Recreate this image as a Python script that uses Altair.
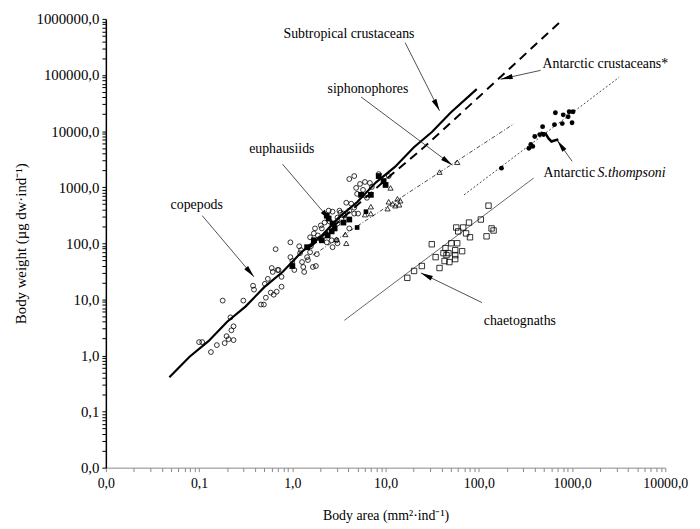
import math
import altair as alt
import pandas as pd

W, H = 566, 454
X_DOMAIN = [0.01, 10000]
Y_DOMAIN = [0.01, 1000000]
SERIF = "Liberation Serif"

# ---------------- data ----------------
cop_x = [0.100,0.108,0.134,0.155,0.179,0.188,0.197,0.207,0.217,0.234,
         0.222,0.234,0.298,0.379,0.388,0.461,0.495,0.520,0.507,0.546,
         0.601,0.616,0.587,0.631,0.679,0.766,0.695,0.662,0.953,0.953,
         1.0,1.05,1.185,1.24,1.27,1.31,1.34,1.47,1.66,1.79,
         1.55,1.58,1.88,1.75,2.07,2.45,2.64,2.70,3.05,1.70,
         1.55,3.79,4.28,4.08,3.61,3.28,3.36,4.83,5.32,5.73,
         4.95,6.01,6.79,8.44,10.8,7.12,6.31,2.70,3.05,2.22,
         2.02,3.05,2.70,2.51,4.61,4.08,3.20,3.53,4.61,5.07,
         1.83,1.97,2.34,2.98,1.44,1.21,4.08,4.61,0.766,0.712]
cop_y = [1.73,1.73,1.15,1.53,9.51,1.66,2.21,1.95,4.77,3.31,
         2.81,1.88,9.51,17.5,14.9,8.08,8.08,10.7,18.9,23.2,
         36.3,30.8,13.2,12.1,13.7,16.8,33.4,78.4,104,56.6,
         48.2,33.4,88.5,75.3,46.3,37.8,30.8,50.2,37.8,39.3,
         69.4,88.5,138,184,184,381,113,85.1,100,150,
         128,528,507,381,311,352,265,970,1141,895,
         760,1238,1188,1711,1578,1010,647,366,287,234,
         208,225,199,244,431,184,381,338,338,338,
         64.0,122,104,113,56.6,66.7,1397,1578,25.2,33.4]

eup_x = [8.44,9.53,10.0,5.46,6.95,2.34,2.45,2.70,3.53,4.08,2.84,2.64,2.07,2.39,1.70,1.0,1.44]
eup_y = [1578,1288,1096,730,730,311,276,225,234,265,184,163,113,138,113,39.3,85.1]

sip_x = [37.9,58.7,11.3,10.8,11.9,13.4,14.4,12.7,14.0,10.5,6.95,6.01,6.95,3.79,2.98,3.70]
sip_y = [1857,2786,970,550,507,621,573,468,486,414,449,324,338,100,118,144]

fsq_x = [4.95,6.16]
fsq_y = [191,366]

sth_x = [662,804,930,1025,907,1000,785,647,483,398,450,495,379,344,361,175]
sth_y = [21200,19500,22100,22100,18000,14100,13600,13000,12000,8000,8670,8670,5330,4920,5780,2180]

cha_x = [127,137,144,121,105,78.5,67.9,57.3,60.1,73,
         80.4,50.7,58.6,66.2,43.9,47.2,41.8,45,55.8,55.8,
         55.8,48.3,42.9,34.4,31.3,37.9,24.5,20.2,17.1]
cha_y = [468,184,169,133,265,234,191,191,163,150,
         128,100,100,72.3,81.7,66.7,66.7,61.5,75.3,61.5,
         52.2,46.2,48.2,56.6,96,36.2,39.3,32.1,24.2]

# regression / trend lines
crus_x = [0.048,0.079,0.126,0.2,0.316,0.5,0.79,1.26,2.0,3.16,5.0,7.9,12.6,20,31.6,50,95]
crus_y = [0.41,0.95,1.8,4.0,7.5,16.5,31,70,130,290,550,1220,2300,5100,9700,21500,56000]
antc_x = [1.55,10.2,25,100,785]
antc_y = [85,1397,4920,40550,960000]
sipl_x = [1.66,239]
sipl_y = [61.5,13550]
sthl_x = [69.5,3200]
sthl_y = [730,91200]
chal_x = [3.61,388]
chal_y = [4.22,1456]
sthc_x = [460,520,559,601,647,713]
sthc_y = [9400,9030,7380,6530,6800,7080]

# annotations
lab_text = ["Subtropical crustaceans","Antarctic crustaceans*","siphonophores",
            "euphausiids","copepods","Antarctic","chaetognaths"]
lab_x = [0.804,483,2.39,0.344,0.0495,495,113]
lab_y = [544000,154600,56100,4720,486,1783,4.05]
ital_text = ["S.thompsoni"]
ital_x = [1878]
ital_y = [1783]

arr_x0 = [16.2,460,5.46,0.785,0.108,1000,108]
arr_y0 = [378000,121000,40550,2570,311,2900,8.77]
arr_x1 = [37.9,171,52.0,2.57,0.388,695,23.9]
arr_y1 = [23000,84100,2466,254,25.2,6800,29.6]

# axis ticks
x_major = [0.01,0.1,1,10,100,1000,10000]
x_labels = ["0,0","0,1","1,0","10,0","100,0","1000,0","10000,0"]
y_major = [0.01,0.1,1,10,100,1000,10000,100000,1000000]
y_labels = ["0,0","0,1","1,0","10,0","100,0","1000,0","10000,0","100000,0","1000000,0"]

def all_ticks(major):
    t = []
    for d in major[:-1]:
        t += [d * m for m in range(1, 10)]
    t.append(major[-1])
    return t

def label_expr(vals, labs):
    e = "''"
    for v, l in reversed(list(zip(vals, labs))):
        e = f"datum.value == {v} ? '{l}' : ({e})"
    return e

x_axis = alt.Axis(values=all_ticks(x_major), labelExpr=label_expr(x_major, x_labels),
                  title="Body area (mm²·ind⁻¹)", grid=False, tickSize=4,
                  domainColor="#888", tickColor="#888", labelColor="black", titleColor="black",
                  labelFont=SERIF, titleFont=SERIF, labelFontSize=14, titleFontSize=14,
                  titleFontWeight="normal", labelPadding=5, titlePadding=18,
                  labelOverlap=False, labelFlush=False)
y_axis = alt.Axis(values=all_ticks(y_major), labelExpr=label_expr(y_major, y_labels),
                  title="Body weight (µg dw·ind⁻¹)", grid=False, tickSize=4,
                  domainColor="black", domainWidth=1.5, tickColor="black",
                  labelColor="black", titleColor="black",
                  labelFont=SERIF, titleFont=SERIF, labelFontSize=15, titleFontSize=15,
                  titleFontWeight="normal", labelPadding=3, titlePadding=8,
                  labelOverlap=False, labelFlush=False)

XS = alt.Scale(type="log", domain=X_DOMAIN, nice=False)
YS = alt.Scale(type="log", domain=Y_DOMAIN, nice=False)

def X():
    return alt.X("x:Q", scale=XS, axis=x_axis)

def Y():
    return alt.Y("y:Q", scale=YS, axis=y_axis)

def df(xs, ys):
    return pd.DataFrame({"x": xs, "y": ys, "i": list(range(len(xs)))})

def line(xs, ys, **kw):
    return alt.Chart(df(xs, ys)).mark_line(clip=True, **kw).encode(
        x=X(), y=Y(), order="i:Q")

def pts(xs, ys, **kw):
    return alt.Chart(df(xs, ys)).mark_point(**kw).encode(x=X(), y=Y())

layers = [
    line(chal_x, chal_y, color="#555", strokeWidth=0.9),
    line(sthl_x, sthl_y, color="#333", strokeWidth=0.9, strokeDash=[2, 2]),
    line(sipl_x, sipl_y, color="#333", strokeWidth=0.9, strokeDash=[4, 2, 1, 2]),
    line(antc_x, antc_y, color="black", strokeWidth=2, strokeDash=[9, 6]),
    line(crus_x, crus_y, color="black", strokeWidth=2.2),
    line(sthc_x, sthc_y, color="black", strokeWidth=2.5),
    pts(cop_x, cop_y, shape="circle", size=24, filled=False, color="black", strokeWidth=0.8, opacity=1),
    pts(cha_x, cha_y, shape="square", size=30, filled=False, color="black", strokeWidth=0.8, opacity=1),
    pts(sip_x, sip_y, shape="triangle-up", size=28, filled=False, color="black", strokeWidth=0.8, opacity=1),
    pts(eup_x, eup_y, shape="square", size=34, filled=True, color="black", opacity=1),
    pts(fsq_x, fsq_y, shape="square", size=22, filled=True, color="black", opacity=1),
    pts(sth_x, sth_y, shape="circle", size=24, filled=True, color="black", opacity=1),
]

# arrows
kx = W / (math.log10(X_DOMAIN[1]) - math.log10(X_DOMAIN[0]))
ky = H / (math.log10(Y_DOMAIN[1]) - math.log10(Y_DOMAIN[0]))
angles = []
for x0, y0, x1, y1 in zip(arr_x0, arr_y0, arr_x1, arr_y1):
    dx = (math.log10(x1) - math.log10(x0)) * kx
    dy_down = -(math.log10(y1) - math.log10(y0)) * ky
    angles.append(math.degrees(math.atan2(dx, -dy_down)) % 360)

arr_df = pd.DataFrame({"x": arr_x0, "y": arr_y0, "x2": arr_x1, "y2": arr_y1, "angle": angles})
arrow_lines = alt.Chart(arr_df).mark_rule(color="#222", strokeWidth=0.8).encode(
    x=X(), y=Y(), x2="x2:Q", y2="y2:Q")
arrow_heads = alt.Chart(arr_df).mark_point(
    shape="M0,0L0.42,2L-0.42,2Z", filled=True, color="black", size=150, opacity=1
).encode(x=alt.X("x2:Q", scale=XS, axis=x_axis), y=alt.Y("y2:Q", scale=YS, axis=y_axis),
         angle=alt.Angle("angle:Q", scale=None))

lab_df = pd.DataFrame({"x": lab_x, "y": lab_y, "t": lab_text})
labels = alt.Chart(lab_df).mark_text(align="left", baseline="middle", font=SERIF,
                                     fontSize=14, color="black").encode(x=X(), y=Y(), text="t:N")
ital_df = pd.DataFrame({"x": ital_x, "y": ital_y, "t": ital_text})
ital = alt.Chart(ital_df).mark_text(align="left", baseline="middle", font=SERIF, fontStyle="italic",
                                    fontSize=14, color="black").encode(x=X(), y=Y(), text="t:N")

chart = alt.layer(*layers, arrow_lines, arrow_heads, labels, ital).properties(
    width=W, height=H,
    autosize=alt.AutoSizeParams(type="none"),
    padding={"left": 99, "top": 8, "right": 27, "bottom": 55},
    background="white",
).configure_view(stroke=None)

chart.save("out.html", embed_options={"renderer": "svg", "actions": False})
